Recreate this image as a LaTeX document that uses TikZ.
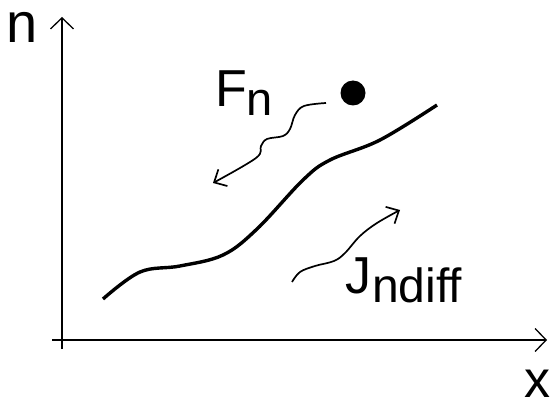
\documentclass[tikz,border=0pt]{standalone}
\usepackage{fontspec}
\setmainfont{Liberation Sans}
\usetikzlibrary{arrows.meta}
\begin{document}
\begin{tikzpicture}[x=1pt,y=-1pt,
  axis/.style={line width=1.3pt,-{Straight Barb[length=11pt,width=23pt,line width=1.3pt]}},
  flux/.style={line width=1.7pt,-{Straight Barb[length=10pt,width=19pt,line width=1.7pt]}},
  profile/.style={line width=3.4pt},
  lbl/.style={anchor=base west,inner sep=0pt,outer sep=0pt},
  big/.style={font=\fontsize{56}{56}\selectfont},
  mid/.style={font=\fontsize{52}{52}\selectfont}]
\useasboundingbox (0,0) rectangle (555,401);
% axes
\coordinate (ytop) at (62,17);
\coordinate (ybot) at (62,349);
\coordinate (xleft) at (52,340);
\coordinate (xright) at (547,340);
\draw[axis] (ybot) -- (ytop);
\draw[axis] (xleft) -- (xright);
\node[lbl,big] (nlab) at (6,43) {n};
\node[lbl,font=\fontsize{52}{52}\selectfont] (xlab) at (524,397) {x};
% concentration profile
\draw[profile] plot[smooth,tension=0.6] coordinates
  {(103,299) (140,272) (180,266) (223,255) (257,229) (303,180) (330,160) (380,140) (437,105)};
% electron
\fill (353,93) circle (12.5);
% labels
\node[lbl,mid] (Fn) at (215,107) {F\kern0pt\raisebox{-9pt}{\fontsize{47}{47}\selectfont n}};
\node[lbl,mid] (Jn) at (345,294) {J\kern1pt\raisebox{-9pt}{\fontsize{48}{48}\selectfont ndiff}};
% flux arrows
\draw[flux] plot[smooth,tension=0.6] coordinates
  {(326,103) (304,106) (295,115) (290,129) (283,136) (267,139) (261,146) (256,158) (213,183)};
\draw[flux] plot[smooth,tension=0.6] coordinates
  {(292,282) (300,272) (315,266) (334,261) (345,253) (360,236) (377,223) (400,210)};
\end{tikzpicture}
\end{document}
